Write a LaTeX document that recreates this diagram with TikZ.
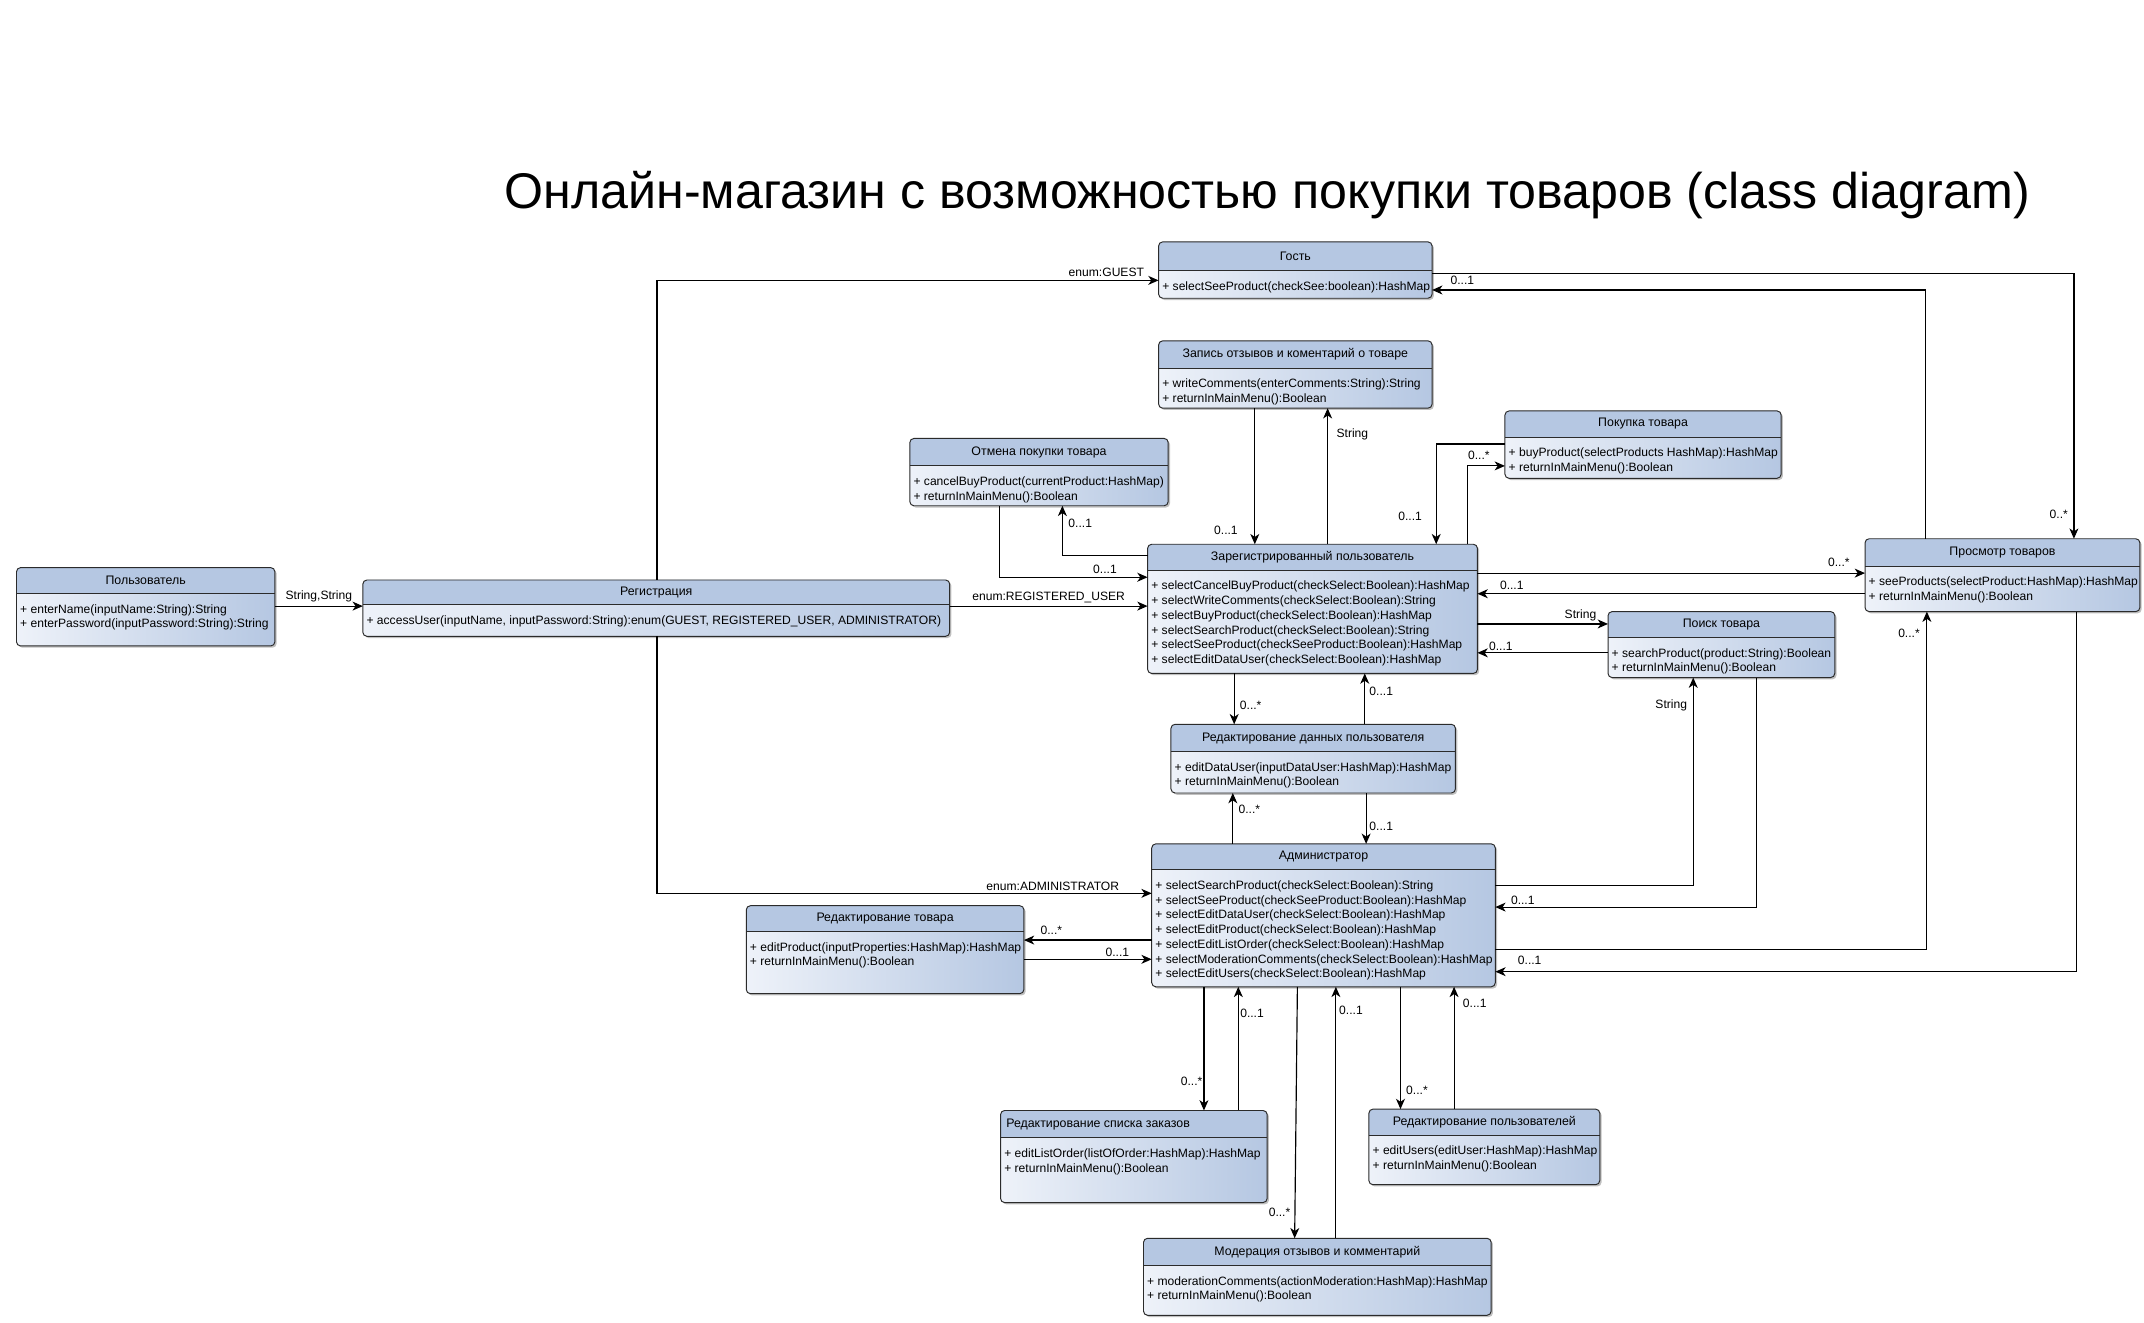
\documentclass[tikz,border=0pt]{standalone}
\usepackage{fontspec}
\setmainfont{Liberation Sans}
\usetikzlibrary{calc,shadows,arrows.meta}
\definecolor{hdr}{HTML}{B5C7E2}
\definecolor{bodyL}{HTML}{EEF2F9}
\definecolor{edge}{HTML}{2B2B2B}
\tikzset{
  box/.style={rectangle, rounded corners=3pt, left color=bodyL, right color=hdr,
    drop shadow={shadow xshift=1.3pt, shadow yshift=-1.3pt, opacity=0.35, fill=black!70},
    inner sep=0pt, outer sep=0pt},
  boxline/.style={draw=edge, line width=0.7pt},
  tfont/.style={font=\fontsize{9}{10.75}\selectfont, inner sep=0pt},
  mfont/.style={font=\fontsize{8.8}{10.75}\selectfont, inner sep=0pt, align=left},
  arr/.style={-{Stealth[length=7.5pt,width=6.5pt,inset=2.2pt]}, line width=0.85pt, draw=black},
  lbl/.style={font=\fontsize{8.8}{10}\selectfont, inner sep=0pt},
}
\newcommand\umlclass[9][c]{%
  \node[box, minimum width=#5pt, minimum height=#6pt, anchor=north west] (#2) at (#3,#4) {};
  \fill[hdr, rounded corners=3pt] (#2.north west) rectangle ($(#2.north east)+(0,#7)$);
  \fill[hdr] ($(#2.north west)+(0,#7/2)$) rectangle ($(#2.north east)+(0,#7)$);
  \draw[boxline] ($(#2.north west)+(0,#7)$) -- ($(#2.north east)+(0,#7)$);
  \draw[boxline, rounded corners=3pt] (#2.north west) rectangle (#2.south east);
  \if#1l
    \node[tfont, anchor=west] at ($(#2.north west)+(4,#7/2)$) {#8};
  \else
    \node[tfont] at ($(#2.north)+(0,#7/2)$) {#8};
  \fi
  \node[mfont, anchor=north west] at ($(#2.north west)+(2.5,#7+7.5)$) {#9};
}
\begin{document}
\begin{tikzpicture}[x=1pt,y=-1pt]
\useasboundingbox (0,0) rectangle (1560,962.6);
\fill[white] (0,0) rectangle (1560,962.6);

\node[font=\fontsize{36.5}{42}\selectfont, inner sep=0pt] (title) at (922,142) {Онлайн-магазин с возможностью покупки товаров (class diagram)};

% ---------- classes ----------
\umlclass{usr}{12}{413}{188}{57}{19}{Пользователь}{+ enterName(inputName:String):String\\+ enterPassword(inputPassword:String):String}
\umlclass{reg}{264}{422}{427}{41}{18}{Регистрация}{+ accessUser(inputName, inputPassword:String):enum(GUEST, REGISTERED\_USER, ADMINISTRATOR)}
\umlclass{gst}{843}{176}{199}{41}{21}{Гость}{+ selectSeeProduct(checkSee:boolean):HashMap}
\umlclass{zap}{843}{248}{199}{49}{20}{Запись отзывов и коментарий о товаре}{+ writeComments(enterComments:String):String\\+ returnInMainMenu():Boolean}
\umlclass{otm}{662}{319}{188}{49}{20}{Отмена покупки товара}{+ cancelBuyProduct(currentProduct:HashMap)\\+ returnInMainMenu():Boolean}
\umlclass{pok}{1095}{299}{201}{49}{19}{Покупка товара}{+ buyProduct(selectProducts HashMap):HashMap\\+ returnInMainMenu():Boolean}
\umlclass{zar}{835}{396}{240}{94}{19}{Зарегистрированный пользователь}{+ selectCancelBuyProduct(checkSelect:Boolean):HashMap\\+ selectWriteComments(checkSelect:Boolean):String\\+ selectBuyProduct(checkSelect:Boolean):HashMap\\+ selectSearchProduct(checkSelect:Boolean):String\\+ selectSeeProduct(checkSeeProduct:Boolean):HashMap\\+ selectEditDataUser(checkSelect:Boolean):HashMap}
\umlclass{pro}{1357}{392}{200}{53}{20}{Просмотр товаров}{+ seeProducts(selectProduct:HashMap):HashMap\\+ returnInMainMenu():Boolean}
\umlclass{poi}{1170}{445}{165}{48}{19}{Поиск товара}{+ searchProduct(product:String):Boolean\\+ returnInMainMenu():Boolean}
\umlclass{red}{852}{527}{207}{50}{20}{Редактирование данных пользователя}{+ editDataUser(inputDataUser:HashMap):HashMap\\+ returnInMainMenu():Boolean}
\umlclass{adm}{838}{614}{250}{104}{19}{Администратор}{+ selectSearchProduct(checkSelect:Boolean):String\\+ selectSeeProduct(checkSeeProduct:Boolean):HashMap\\+ selectEditDataUser(checkSelect:Boolean):HashMap\\+ selectEditProduct(checkSelect:Boolean):HashMap\\+ selectEditListOrder(checkSelect:Boolean):HashMap\\+ selectModerationComments(checkSelect:Boolean):HashMap\\+ selectEditUsers(checkSelect:Boolean):HashMap}
\umlclass{rtv}{543}{659}{202}{64}{19}{Редактирование товара}{+ editProduct(inputProperties:HashMap):HashMap\\+ returnInMainMenu():Boolean}
\umlclass[l]{rsp}{728}{808}{194}{67}{20}{Редактирование списка заказов}{+ editListOrder(listOfOrder:HashMap):HashMap\\+ returnInMainMenu():Boolean}
\umlclass{rpl}{996}{807}{168}{55}{19}{Редактирование пользователей}{+ editUsers(editUser:HashMap):HashMap\\+ returnInMainMenu():Boolean}
\umlclass{mod}{832}{901}{253}{56}{20}{Модерация отзывов и комментарий}{+ moderationComments(actionModeration:HashMap):HashMap\\+ returnInMainMenu():Boolean}

% ---------- connectors ----------
\draw[arr] (usr.east |- 0,441) -- (reg.west |- 0,441) node[lbl] at (232,434) {String,String};
\draw[arr] (478,0 |- reg.north) |- (gst.west |- 0,204) node[lbl] at (805,198) {enum:GUEST};
\draw[arr] (478,0 |- reg.south) |- (adm.west |- 0,650) node[lbl] at (766,645) {enum:ADMINISTRATOR};
\draw[arr] (reg.east |- 0,441) -- (zar.west |- 0,441) node[lbl] at (763,435) {enum:REGISTERED\_USER};
\draw[arr] (913,0 |- zap.south) -- (913,0 |- zar.north) node[lbl] at (892,386) {0...1};
\draw[arr] (966,0 |- zar.north) -- (966,0 |- zap.south) node[lbl] at (984,316) {String};
\draw[arr] (zar.west |- 0,404) -| (773,0 |- otm.south) node[lbl] at (786,381) {0...1};
\draw[arr] (727,0 |- otm.south) |- (zar.west |- 0,420) node[lbl] at (804,414) {0...1};
\draw[arr] (pok.west |- 0,323) -| (1045,0 |- zar.north) node[lbl] at (1026,376) {0...1};
\draw[arr] (1068,0 |- zar.north) |- (pok.west |- 0,339) node[lbl] at (1076,331) {0...*};
\draw[arr] (zar.east |- 0,417) -- (pro.west |- 0,417) node[lbl] at (1338,409) {0...*};
\draw[arr] (pro.west |- 0,432) -- (zar.east |- 0,432) node[lbl] at (1100,426) {0...1};
\draw[arr] (zar.east |- 0,454) -- (poi.west |- 0,454) node[lbl] at (1150,448) {String};
\draw[arr] (poi.west |- 0,475) -- (zar.east |- 0,475) node[lbl] at (1092,470) {0...1};
\draw[arr] (1401,0 |- pro.north) |- (gst.east |- 0,211) node[lbl] at (1064,204) {0...1};
\draw[arr] (gst.east |- 0,199) -| (1509,0 |- pro.north) node[lbl] at (1498,374) {0..*};
\draw[arr] (898,0 |- zar.south) -- (898,0 |- red.north) node[lbl] at (910,513) {0...*};
\draw[arr] (993,0 |- red.north) -- (993,0 |- zar.south) node[lbl] at (1005,503) {0...1};
\draw[arr] (897,0 |- adm.north) -- (897,0 |- red.south) node[lbl] at (909,589) {0...*};
\draw[arr] (994,0 |- red.south) -- (994,0 |- adm.north) node[lbl] at (1005,601) {0...1};
\draw[arr] (adm.east |- 0,644) -| (1232,0 |- poi.south) node[lbl] at (1216,513) {String};
\draw[arr] (1278,0 |- poi.south) |- (adm.east |- 0,660) node[lbl] at (1108,655) {0...1};
\draw[arr] (adm.east |- 0,691) -| (1402,0 |- pro.south) node[lbl] at (1389,461) {0...*};
\draw[arr] (1511,0 |- pro.south) |- (adm.east |- 0,707) node[lbl] at (1113,699) {0...1};
\draw[arr] (adm.west |- 0,684) -- (rtv.east |- 0,684) node[lbl] at (765,677) {0...*};
\draw[arr] (rtv.east |- 0,698) -- (adm.west |- 0,698) node[lbl] at (813,693) {0...1};
\draw[arr] (876,0 |- adm.south) -- (876,0 |- rsp.north) node[lbl] at (867,787) {0...*};
\draw[arr] (901,0 |- rsp.north) -- (901,0 |- adm.south) node[lbl] at (911,737) {0...1};
\draw[arr] (944,0 |- adm.south) -- (942,0 |- mod.north) node[lbl] at (931,882) {0...*};
\draw[arr] (972,0 |- mod.north) -- (972,0 |- adm.south) node[lbl] at (983,735) {0...1};
\draw[arr] (1019,0 |- adm.south) -- (1019,0 |- rpl.north) node[lbl] at (1031,793) {0...*};
\draw[arr] (1058,0 |- rpl.north) -- (1058,0 |- adm.south) node[lbl] at (1073,730) {0...1};
\end{tikzpicture}
\end{document}
